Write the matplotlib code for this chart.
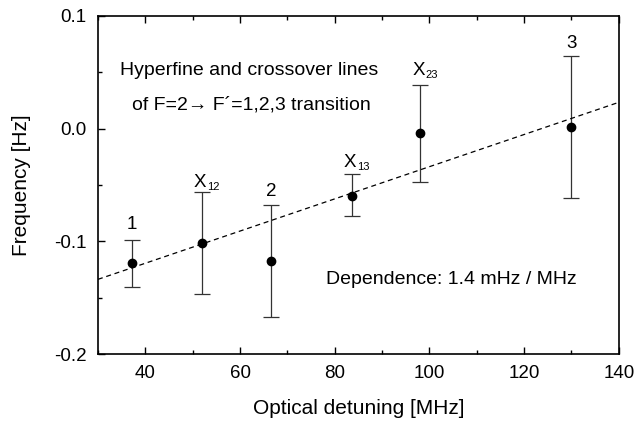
import numpy as np
import matplotlib.pyplot as plt
from matplotlib.ticker import MultipleLocator

plt.rcParams['font.family'] = ['Liberation Sans', 'DejaVu Sans']

# data
detuning = [37.2, 51.9, 66.5, 83.6, 98.1, 130.0]      # MHz
freq = [-0.1195, -0.101, -0.117, -0.0595, -0.004, 0.0015]  # Hz
err_lo = [0.021, 0.046, 0.050, 0.018, 0.043, 0.063]
err_hi = [0.021, 0.045, 0.049, 0.019, 0.043, 0.063]
labels = ['1', 'X', '2', 'X', 'X', '3']
subs = ['', '12', '', '13', '23', '']
label_y = [-0.085, -0.048, -0.056, -0.030, 0.052, 0.076]

# linear fit line, 1.4 mHz / MHz
fit_x = [30, 140]
fit_y = [-0.1337, 0.0234]

fig = plt.figure(figsize=(6.36, 4.21), dpi=100)
ax = fig.add_axes([0.154, 0.159, 0.819, 0.803])

ax.errorbar(detuning, freq, yerr=[err_lo, err_hi], fmt='o', color='black',
            ms=6, elinewidth=0.9, capsize=5.5, capthick=0.9, ecolor='#333333')
ax.plot(fit_x, fit_y, ls=(0, (4, 3)), color='black', lw=0.9)

for x, y, s, sub in zip(detuning, label_y, labels, subs):
    if sub:
        ax.text(x - 0.4, y, s, ha='center', va='center', fontsize=13.5)
        ax.annotate(sub, xy=(x - 0.4, y), xytext=(5, -7), textcoords='offset points',
                    ha='left', va='bottom', fontsize=8)
    else:
        ax.text(x, y, s, ha='center', va='center', fontsize=13.5)

ax.text(62, 0.052, 'Hyperfine and crossover lines', ha='center', va='center', fontsize=14)
ax.text(62.5, 0.021, 'of F=2\u2192 F\u00b4=1,2,3 transition', ha='center', va='center',
        fontsize=14)
ax.text(104.6, -0.1334, 'Dependence: 1.4 mHz / MHz', ha='center', va='center', fontsize=14)

ax.set_xlim(30, 140)
ax.set_ylim(-0.2, 0.1)
ax.xaxis.set_major_locator(MultipleLocator(20))
ax.xaxis.set_minor_locator(MultipleLocator(10))
ax.yaxis.set_major_locator(MultipleLocator(0.1))
ax.yaxis.set_minor_locator(MultipleLocator(0.05))
ax.tick_params(which='both', direction='in', top=True, right=False, labelsize=13.5, width=1)
ax.tick_params(which='major', length=5, pad=8)
ax.tick_params(which='minor', length=3)
ax.set_xticks([40, 60, 80, 100, 120, 140])
ax.set_yticks([-0.2, -0.1, 0.0, 0.1])
ax.set_yticklabels(['-0.2', '-0.1', '0.0', '0.1'])
for sp in ax.spines.values():
    sp.set_linewidth(1.2)

ax.set_xlabel('Optical detuning [MHz]', fontsize=15, labelpad=12)
ax.set_ylabel('Frequency [Hz]', fontsize=15, labelpad=17)

fig.savefig('out.png', dpi=100)
